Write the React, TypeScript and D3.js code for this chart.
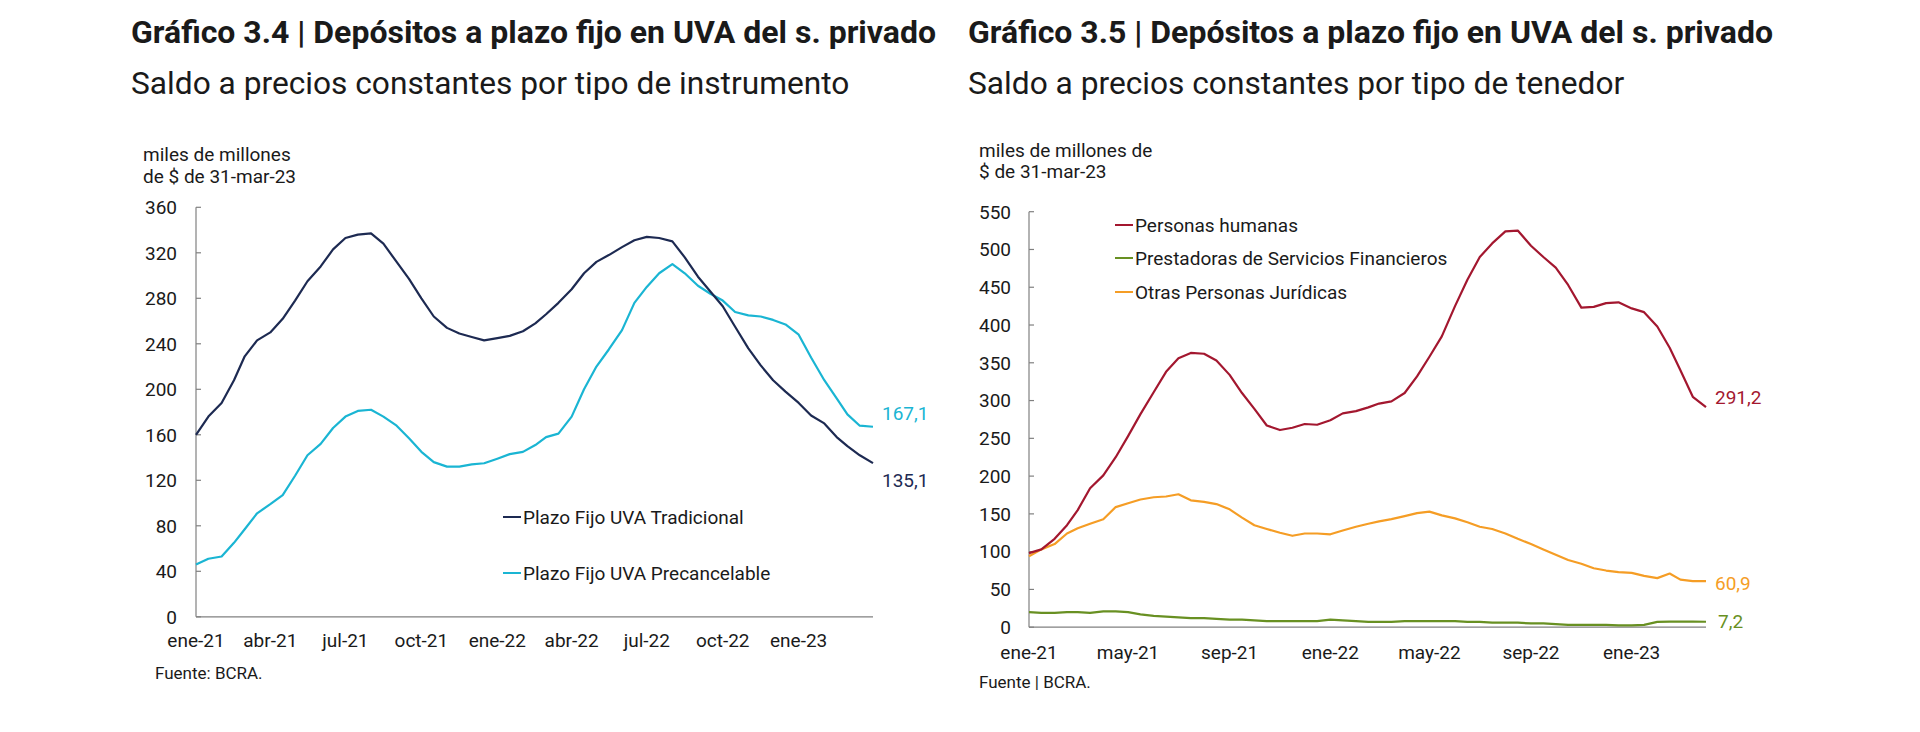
import React from "react";
import * as d3 from "d3";

// semi-monthly observation dates, 1-ene-21 .. 1-abr-23
const periods: Date[] = Array.from({ length: 55 }, (_, i) =>
  new Date(Date.UTC(2021, Math.floor(i / 2), i % 2 === 0 ? 1 : 16))
);

// Gráfico 3.4 series (miles de millones de $ de 31-mar-23)
const tradicional = [
  160, 176, 188, 208, 229, 243, 250, 262, 278, 295, 308, 323, 333, 336, 337, 328, 312, 297, 280, 264,
  254, 249, 246, 243, 245, 247, 251, 258, 266, 276, 288, 302, 312, 318, 325, 331, 334, 333, 330, 316,
  299, 286, 273, 255, 236, 221, 208, 198, 188, 177, 170, 158, 150, 142, 135.1,
];
const precancelable = [
  46, 51, 53, 65, 77, 91, 99, 107, 124, 142, 152, 166, 176, 181, 182, 176, 168, 157, 145, 136,
  132, 132, 134, 135, 139, 143, 145, 151, 158, 161, 176, 200, 220, 235, 252, 276, 290, 302, 310, 302,
  291, 284, 278, 268, 265, 264, 261, 257, 248, 228, 208, 192, 178, 168, 167.1,
];

// Gráfico 3.5 series
const personasHumanas = [
  98, 103, 117, 135, 155, 184, 201, 225, 253, 282, 311, 338, 356, 363, 362, 353, 334, 310, 289, 267,
  261, 264, 269, 268, 274, 283, 286, 291, 296, 299, 310, 332, 358, 385, 425, 460, 490, 508, 524, 525,
  505, 490, 476, 453, 423, 424, 429, 430, 422, 417, 398, 370, 340, 305, 291.2,
];
const prestadoras = [
  20, 19, 19, 20, 20, 19, 21, 21, 20, 17, 15, 14, 13, 12, 12, 11, 10, 10, 9, 8,
  8, 8, 8, 8, 10, 9, 8, 7, 7, 7, 8, 8, 8, 8, 8, 7, 7, 6, 6, 6,
  5, 5, 4, 3, 3, 3, 3, 2.5, 2.5, 3, 7, 7.5, 7.5, 7.3, 7.2,
];
const otrasJuridicas = [
  94, 103, 110, 124, 131, 137, 143, 159, 164, 169, 172, 173, 176, 168, 166, 163, 156, 145, 135, 130,
  125, 121, 124, 124, 123, 128, 133, 137, 140, 143, 147, 151, 153, 148, 144, 139, 133, 130, 124, 117,
  110, 103, 96, 89, 84, 78, 75, 73, 72, 68, 65, 71, 63, 61, 60.9,
];

const leftTickLabels = ["ene-21", "abr-21", "jul-21", "oct-21", "ene-22", "abr-22", "jul-22", "oct-22", "ene-23"];
const leftTickMonths = [0, 3, 6, 9, 12, 15, 18, 21, 24];
const rightTickLabels = ["ene-21", "may-21", "sep-21", "ene-22", "may-22", "sep-22", "ene-23"];
const rightTickMonths = [0, 4, 8, 12, 16, 20, 24];
const leftYTicks = [0, 40, 80, 120, 160, 200, 240, 280, 320, 360];
const rightYTicks = [0, 50, 100, 150, 200, 250, 300, 350, 400, 450, 500, 550];

const NAVY = "#1d2a52";
const CYAN = "#1ab5d3";
const RED = "#a3172f";
const ORANGE = "#f59d25";
const GREEN = "#689022";
const TEXT = "#1a1a1a";
const AXIS = "#808080";
const FONT = "Roboto, 'Open Sans', sans-serif";

const d0 = new Date(Date.UTC(2021, 0, 1));
const d1 = new Date(Date.UTC(2023, 3, 1));
const monthDate = (m: number) => new Date(Date.UTC(2021, m, 1));

type Series = { values: number[]; color: string };

function Panel(props: {
  x0: number; x1: number; yBottom: number; yTop: number; yMax: number;
  yTicks: number[]; tickLabels: string[]; tickMonths: number[];
  series: Series[]; labelY: number; labelX: number;
}) {
  const x = d3.scaleUtc().domain([d0, d1]).range([props.x0, props.x1]);
  const y = d3.scaleLinear().domain([0, props.yMax]).range([props.yBottom, props.yTop]);
  const line = (vals: number[]) =>
    d3.line<number>().x((_, i) => x(periods[i])).y((v) => y(v)).curve(d3.curveLinear)(vals) || "";
  return (
    <g>
      <line x1={props.x0} x2={props.x0} y1={y(0)} y2={y(props.yMax)} stroke={AXIS} strokeWidth={1.2} />
      <line x1={props.x0} x2={props.x1} y1={y(0)} y2={y(0)} stroke={AXIS} strokeWidth={1.2} />
      {props.yTicks.map((t) => (
        <g key={t}>
          <line x1={props.x0} x2={props.x0 + 5} y1={y(t)} y2={y(t)} stroke={AXIS} strokeWidth={1.2} />
          <text x={props.labelX} y={y(t)} dy="0.36em" textAnchor="end" fontSize={19} fill={TEXT} fontFamily={FONT}>
            {t}
          </text>
        </g>
      ))}
      {props.tickLabels.map((l, i) => (
        <text key={l} x={x(monthDate(props.tickMonths[i]))} y={props.labelY} textAnchor="middle" fontSize={19} fill={TEXT} fontFamily={FONT}>
          {l}
        </text>
      ))}
      {props.series.map((s, i) => (
        <path key={i} d={line(s.values)} fill="none" stroke={s.color} strokeWidth={2.2} strokeLinejoin="round" />
      ))}
    </g>
  );
}

export default function App() {
  const yL = d3.scaleLinear().domain([0, 360]).range([616.8, 207.3]);
  const yR = d3.scaleLinear().domain([0, 550]).range([627.2, 211.7]);
  return (
    <div style={{ position: "absolute", left: 0, top: 0, width: 1920, height: 732, background: "#fff" }}>
      <svg width={1920} height={732} style={{ display: "block" }} fontFamily={FONT}>
        <rect width={1920} height={732} fill="#fff" />
        {/* titles */}
        <text x={131} y={43} fontSize={32} fontWeight={700} fill={TEXT}>
          Gráfico 3.4 | Depósitos a plazo fijo en UVA del s. privado
        </text>
        <text x={131} y={94} fontSize={31.7} fill={TEXT}>
          Saldo a precios constantes por tipo de instrumento
        </text>
        <text x={968} y={43} fontSize={32} fontWeight={700} fill={TEXT}>
          Gráfico 3.5 | Depósitos a plazo fijo en UVA del s. privado
        </text>
        <text x={968} y={94} fontSize={31.7} fill={TEXT}>
          Saldo a precios constantes por tipo de tenedor
        </text>

        {/* left chart */}
        <text x={143} y={161} fontSize={19} fill={TEXT}>miles de millones</text>
        <text x={143} y={183} fontSize={19} fill={TEXT}>de $ de 31-mar-23</text>
        <Panel
          x0={196} x1={873} yBottom={616.8} yTop={207.3} yMax={360}
          yTicks={leftYTicks} tickLabels={leftTickLabels} tickMonths={leftTickMonths}
          labelY={647} labelX={177}
          series={[{ values: precancelable, color: CYAN }, { values: tradicional, color: NAVY }]}
        />
        <line x1={503} x2={521} y1={517} y2={517} stroke={NAVY} strokeWidth={2} />
        <text x={523} y={517} dy="0.36em" fontSize={19} fill={TEXT}>Plazo Fijo UVA Tradicional</text>
        <line x1={503} x2={521} y1={573} y2={573} stroke={CYAN} strokeWidth={2} />
        <text x={523} y={573} dy="0.36em" fontSize={19} fill={TEXT}>Plazo Fijo UVA Precancelable</text>
        <text x={882} y={yL(precancelable[54]) - 14} dy="0.36em" fontSize={19} fill={CYAN}>
          {String(precancelable[54]).replace(".", ",")}
        </text>
        <text x={882} y={yL(tradicional[54]) + 17} dy="0.36em" fontSize={19} fill={NAVY}>
          {String(tradicional[54]).replace(".", ",")}
        </text>
        <text x={155} y={679} fontSize={17} fill={TEXT}>Fuente: BCRA.</text>

        {/* right chart */}
        <text x={979} y={157} fontSize={19} fill={TEXT}>miles de millones de</text>
        <text x={979} y={178} fontSize={19} fill={TEXT}>$ de 31-mar-23</text>
        <Panel
          x0={1029} x1={1706} yBottom={627.2} yTop={211.7} yMax={550}
          yTicks={rightYTicks} tickLabels={rightTickLabels} tickMonths={rightTickMonths}
          labelY={659} labelX={1011}
          series={[
            { values: prestadoras, color: GREEN },
            { values: otrasJuridicas, color: ORANGE },
            { values: personasHumanas, color: RED },
          ]}
        />
        <line x1={1115} x2={1133} y1={225} y2={225} stroke={RED} strokeWidth={2} />
        <text x={1135} y={225} dy="0.36em" fontSize={19} fill={TEXT}>Personas humanas</text>
        <line x1={1115} x2={1133} y1={258} y2={258} stroke={GREEN} strokeWidth={2} />
        <text x={1135} y={258} dy="0.36em" fontSize={19} fill={TEXT}>Prestadoras de Servicios Financieros</text>
        <line x1={1115} x2={1133} y1={292} y2={292} stroke={ORANGE} strokeWidth={2} />
        <text x={1135} y={292} dy="0.36em" fontSize={19} fill={TEXT}>Otras Personas Jurídicas</text>
        <text x={1715} y={yR(personasHumanas[54]) - 10} dy="0.36em" fontSize={19} fill={RED}>
          {String(personasHumanas[54]).replace(".", ",")}
        </text>
        <text x={1715} y={yR(otrasJuridicas[54]) + 2} dy="0.36em" fontSize={19} fill={ORANGE}>
          {String(otrasJuridicas[54]).replace(".", ",")}
        </text>
        <text x={1718} y={yR(prestadoras[54]) - 1} dy="0.36em" fontSize={19} fill={GREEN}>
          {String(prestadoras[54]).replace(".", ",")}
        </text>
        <text x={979} y={688} fontSize={17} fill={TEXT}>Fuente | BCRA.</text>
      </svg>
    </div>
  );
}
